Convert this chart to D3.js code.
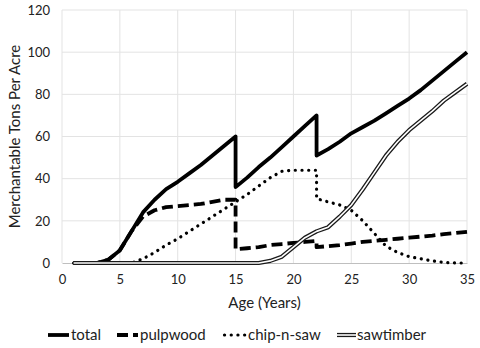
<!DOCTYPE html>
<html>
<head>
<meta charset="utf-8">
<script src="https://cdn.jsdelivr.net/npm/d3@7"></script>
<style>
  html, body { margin: 0; padding: 0; background: #fff; }
  svg { display: block; font-family: Lato, "Open Sans", sans-serif; }
</style>
</head>
<body>
<svg id="chart" width="480" height="348"></svg>
<script>
// Stand age in years; 15 and 22 appear twice for the thinning drops
const ages = [1,2,3,4,5,6,7,8,9,10,11,12,13,14,15,15,16,17,18,19,20,21,22,22,
              23,24,25,26,27,28,29,30,31,32,33,34,35];

const total = [0,0,0,1.5,6,15,24,30,35,38.5,42.5,46.5,51,55.5,60,36,40.5,45.5,50,55,60,65,70,51,
               54,57.5,61.5,64.5,67.5,71,74.5,78,82,86.5,91,95.5,100];
const pulpwood = [0,0,0,1.5,6,15,22,25,26.5,27,27.5,28,29,30,30,6.5,7,7.5,8.5,9,9.5,10,10.5,7.5,
                  8,8.5,9.2,10,10.5,11,11.5,12,12.5,13,13.7,14.2,14.8];
const chipNSaw = [0,0,0,0,0,0,2,5,8.5,11.5,15,18.5,22,25.5,29,29,32.5,36.5,40.5,43.5,44,44,44,30.5,
                  29,27.5,25,20,14,8,5,3,2,1,0.3,0,0];
const sawtimber = [0,0,0,0,0,0,0,0,0,0,0,0,0,0,0,0,0,0,1,3,7.5,12,15,15,
                   17,22,27.5,35,43,51,57.5,63,67.5,72,77,81,85];

const seriesNames = ["total", "pulpwood", "chip-n-saw", "sawtimber"];
const xTicks = [0,5,10,15,20,25,30,35];
const yTicks = [0,20,40,60,80,100,120];

const svg = d3.select("#chart");
const margin = {top: 10, right: 13, bottom: 85, left: 62};
const W = 480, H = 348;
const iw = W - margin.left - margin.right;
const ih = H - margin.top - margin.bottom;

const x = d3.scaleLinear().domain([0, 35]).range([margin.left, margin.left + iw]);
const y = d3.scaleLinear().domain([0, 120]).range([margin.top + ih, margin.top]);

// gridlines
const grid = svg.append("g");
grid.selectAll("line.v").data(xTicks).join("line")
  .attr("x1", d => x(d)).attr("x2", d => x(d))
  .attr("y1", y(0)).attr("y2", y(120))
  .attr("stroke", "#e3e3e3").attr("stroke-width", 1);
grid.selectAll("line.h").data(yTicks.filter(d => d > 0)).join("line")
  .attr("x1", x(0)).attr("x2", x(35))
  .attr("y1", d => y(d)).attr("y2", d => y(d))
  .attr("stroke", "#e3e3e3").attr("stroke-width", 1);

// axes (labels only, no tick marks)
const xAxis = svg.append("g")
  .attr("transform", `translate(0,${y(0)})`)
  .call(d3.axisBottom(x).tickValues(xTicks).tickSize(0).tickPadding(12));
xAxis.select(".domain").attr("stroke", "#bfbfbf").attr("stroke-width", 1.2);
xAxis.selectAll("text").attr("font-size", 13).attr("fill", "#222")
  .attr("font-family", "Lato, sans-serif");

const yAxis = svg.append("g")
  .attr("transform", `translate(${x(0)},0)`)
  .call(d3.axisLeft(y).tickValues(yTicks).tickSize(0).tickPadding(12));
yAxis.select(".domain").remove();
yAxis.selectAll("text").attr("font-size", 13).attr("fill", "#222")
  .attr("font-family", "Lato, sans-serif");

// axis titles
svg.append("text")
  .attr("x", x(17.5)).attr("y", 308)
  .attr("text-anchor", "middle").attr("font-size", 15).attr("fill", "#222")
  .text("Age (Years)");
svg.append("text")
  .attr("transform", `translate(20,${y(60)}) rotate(-90)`)
  .attr("text-anchor", "middle").attr("font-size", 15).attr("fill", "#222")
  .text("Merchantable Tons Per Acre");

const line = d3.line()
  .x((d, i) => x(ages[i]))
  .y(d => y(d));

const plot = svg.append("g").attr("fill", "none").attr("stroke-linejoin", "round");

// total
plot.append("path").attr("d", line(total))
  .attr("stroke", "#000").attr("stroke-width", 3.8);
// pulpwood
plot.append("path").attr("d", line(pulpwood))
  .attr("stroke", "#000").attr("stroke-width", 3.8)
  .attr("stroke-dasharray", "11 5");
// chip-n-saw
plot.append("path").attr("d", line(chipNSaw))
  .attr("stroke", "#000").attr("stroke-width", 3.2)
  .attr("stroke-linecap", "round").attr("stroke-dasharray", "0.1 6.6");
// sawtimber: double line
plot.append("path").attr("d", line(sawtimber))
  .attr("stroke", "#1a1a1a").attr("stroke-width", 4.2);
plot.append("path").attr("d", line(sawtimber))
  .attr("stroke", "#fff").attr("stroke-width", 1.6);

// legend
const legendY = 335;
const legendItems = [
  {name: seriesNames[0], x0: 48, x1: 69, tx: 71},
  {name: seriesNames[1], x0: 117, x1: 138, tx: 140},
  {name: seriesNames[2], x0: 223, x1: 245, tx: 248},
  {name: seriesNames[3], x0: 337, x1: 356, tx: 357}
];
const lg = svg.append("g");
legendItems.forEach((it, i) => {
  const g = lg.append("g");
  if (i === 0) {
    g.append("line").attr("x1", it.x0).attr("x2", it.x1).attr("y1", legendY).attr("y2", legendY)
      .attr("stroke", "#000").attr("stroke-width", 3.8);
  } else if (i === 1) {
    g.append("line").attr("x1", it.x0).attr("x2", it.x1).attr("y1", legendY).attr("y2", legendY)
      .attr("stroke", "#000").attr("stroke-width", 3.8).attr("stroke-dasharray", "11 5");
  } else if (i === 2) {
    g.append("line").attr("x1", it.x0 + 1.5).attr("x2", it.x1).attr("y1", legendY).attr("y2", legendY)
      .attr("stroke", "#000").attr("stroke-width", 3.2)
      .attr("stroke-linecap", "round").attr("stroke-dasharray", "0.1 6.6");
  } else {
    g.append("line").attr("x1", it.x0).attr("x2", it.x1).attr("y1", legendY).attr("y2", legendY)
      .attr("stroke", "#1a1a1a").attr("stroke-width", 4.2);
    g.append("line").attr("x1", it.x0).attr("x2", it.x1).attr("y1", legendY).attr("y2", legendY)
      .attr("stroke", "#fff").attr("stroke-width", 1.6);
  }
  g.append("text").attr("x", it.tx).attr("y", legendY + 5)
    .attr("font-size", 15).attr("fill", "#222").text(it.name);
});
</script>
</body>
</html>
